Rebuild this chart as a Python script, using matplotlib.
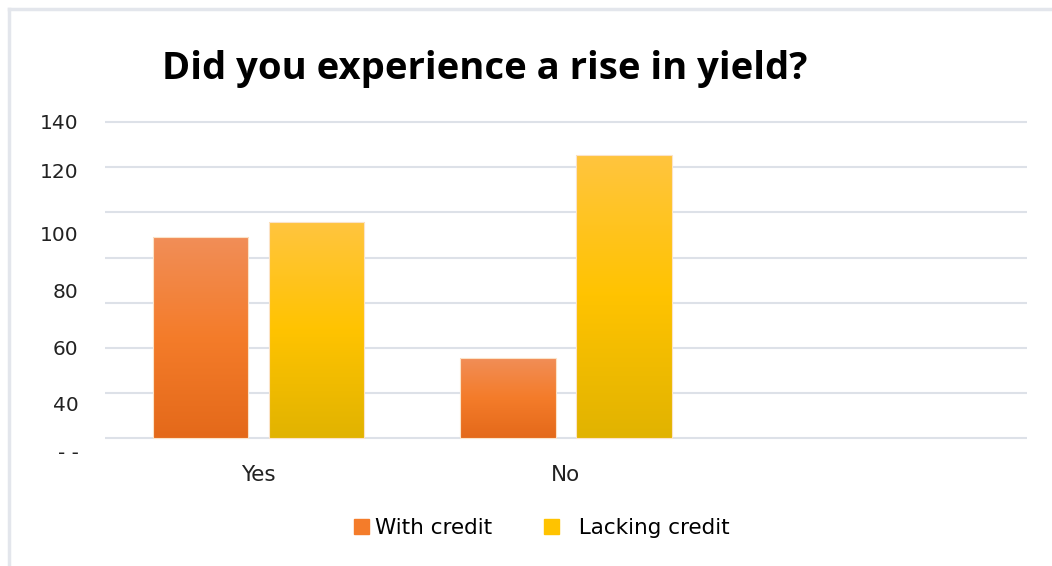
import matplotlib.pyplot as plt
import numpy as np
from matplotlib.colors import LinearSegmentedColormap
from matplotlib.lines import Line2D
from matplotlib.patches import Rectangle

# Data
categories = ["Yes", "No", ""]
with_credit = [89, 35.5, 0]
lacking_credit = [95.6, 125.5, 0]
series_names = ["With credit", "Lacking credit"]

# Gridline values and the (oddly placed) axis labels of the original
grid_values = [0, 20, 40, 60, 80, 100, 120, 140]
ytick_pos = [140.3, 118.7, 90.6, 65.4, 40.2, 15.2, -6.0]
ytick_labels = ["140", "120", "100", "80", "60", "40", "- -"]

orange_cols = ["#E4691A", "#F47C2A", "#F18E58"]
yellow_cols = ["#E1B300", "#FFC300", "#FFC53F"]

plt.rcParams["font.family"] = ["DejaVu Sans"]

fig = plt.figure(figsize=(10.52, 5.66), dpi=100)
ax = fig.add_axes([0.0998, 0.1938, 0.8764, 0.5947])

x = np.arange(len(categories))
offset = 0.189
width = 0.31


def gradient_bars(xs, heights, cols):
    cmap = LinearSegmentedColormap.from_list("g", cols)
    grad = np.linspace(0, 1, 256).reshape(-1, 1)
    for xi, h in zip(xs, heights):
        if h <= 0:
            continue
        rect = Rectangle((xi - width / 2, 0), width, h, facecolor="none",
                         edgecolor="#FBE3C8", linewidth=0.8, zorder=3)
        ax.add_patch(rect)
        im = ax.imshow(grad, cmap=cmap, origin="lower", aspect="auto",
                       extent=(xi - width / 2, xi + width / 2, 0, h), zorder=2)
        im.set_clip_path(rect)


gradient_bars(x - offset, with_credit, orange_cols)
gradient_bars(x + offset, lacking_credit, yellow_cols)

for g in grid_values:
    ax.axhline(g, color="#DDE1E8", linewidth=1.5, zorder=1)

ax.set_xlim(-0.5, 2.5)
ax.set_ylim(-8, 141)
ax.set_xticks(x)
ax.set_xticklabels(categories, fontsize=15.5, color="#222222")
ax.set_yticks(ytick_pos)
ax.set_yticklabels(ytick_labels, fontsize=14.5, color="#222222")
ax.tick_params(length=0)
ax.tick_params(axis="y", pad=19)
ax.tick_params(axis="x", pad=6)
for s in ax.spines.values():
    s.set_visible(False)

fig.text(0.4605, 0.878, "Did you experience a rise in yield?", ha="center",
         va="center", fontsize=27.5, fontweight="bold", color="black",
         family="Open Sans")

handles = [Rectangle((0, 0), 1, 1, color=orange_cols[1]),
           Rectangle((0, 0), 1, 1, color=yellow_cols[1])]
fig.legend(handles, [series_names[0], "  " + series_names[1]], loc="center",
           bbox_to_anchor=(0.515, 0.067), ncol=2, frameon=False, fontsize=15.5,
           handlelength=0.7, handleheight=0.7, handletextpad=0.3,
           columnspacing=2.4)

# light frame at top and left
fig.add_artist(Line2D([0.0085, 0.0085], [0, 0.984], color="#E3E6EC", linewidth=2.5))
fig.add_artist(Line2D([0.0085, 1], [0.984, 0.984], color="#E3E6EC", linewidth=2.5))

fig.savefig("out.png", dpi=100)
